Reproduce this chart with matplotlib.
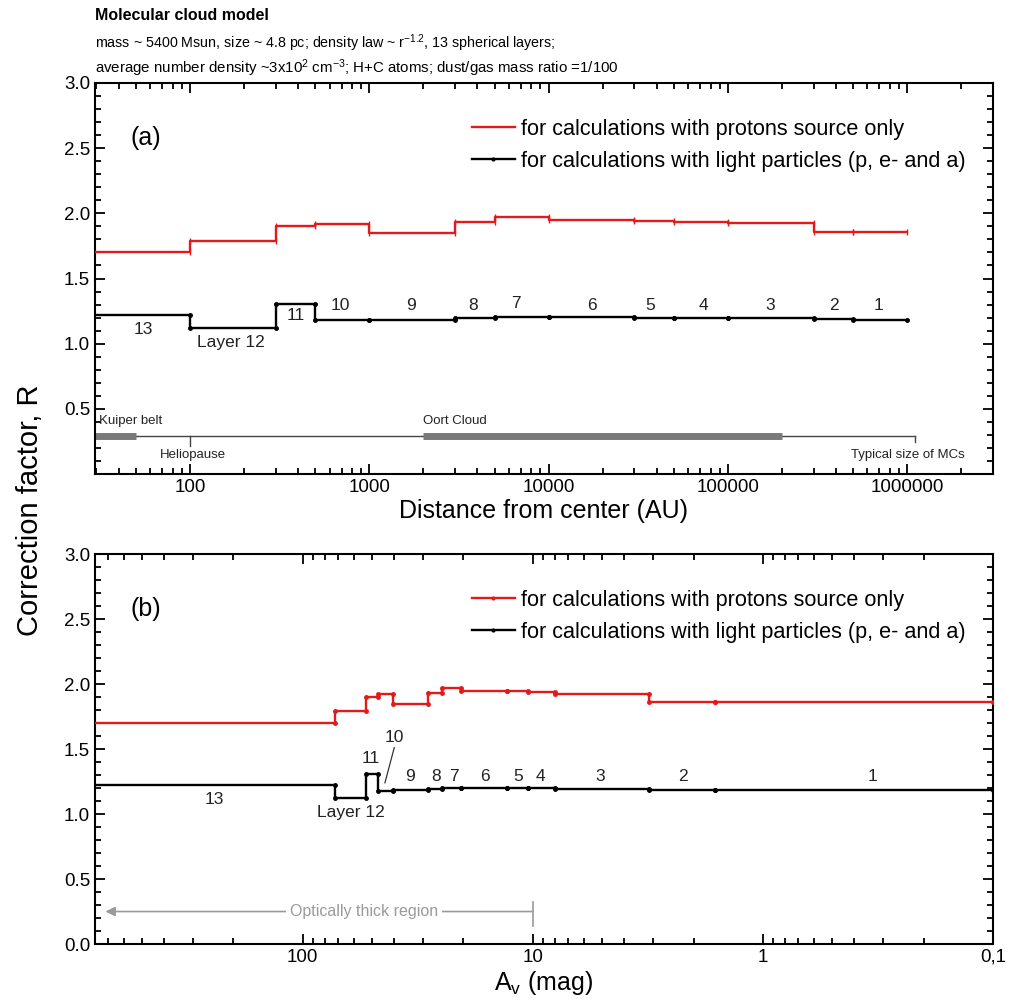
import numpy as np
import matplotlib
matplotlib.use("Agg")
import matplotlib.pyplot as plt
from matplotlib.lines import Line2D
from matplotlib.ticker import FixedLocator, FuncFormatter, MultipleLocator, LogLocator, NullFormatter

plt.rcParams['font.family'] = ['Liberation Sans', 'DejaVu Sans']
plt.rcParams['mathtext.default'] = 'regular'

# layers 13 ... 1, from the centre outwards
layers = ["13", "Layer 12", "11", "10", "9", "8", "7", "6", "5", "4", "3", "2", "1"]
r_edges = [30, 100, 300, 500, 1000, 3000, 5000, 1e4, 3e4, 5e4, 1e5, 3e5, 5e5, 1e6]   # AU
av_edges = [1000, 72.4, 52.9, 46.9, 40.6, 28.4, 24.7, 20.6, 12.9, 10.5, 7.97, 3.12, 1.62, 0.1]  # mag
r_protons = [1.70, 1.79, 1.90, 1.92, 1.85, 1.93, 1.97, 1.95, 1.945, 1.935, 1.925, 1.86, 1.86]
r_light = [1.22, 1.12, 1.305, 1.178, 1.185, 1.195, 1.203, 1.203, 1.199, 1.198, 1.196, 1.187, 1.185]

lab_protons = "for calculations with protons source only"
lab_light = "for calculations with light particles (p, e- and a)"

RED = '#e31a1c'


def draw_steps(ax, edges, vals, color, marker, ms):
    ax.step(edges, list(vals) + [vals[-1]], where='post', color=color, lw=1.7, zorder=3)
    mx, my = [], []
    for i in range(1, len(edges) - 1):
        mx += [edges[i], edges[i]]
        my += [vals[i - 1], vals[i]]
    mx.append(edges[-1])
    my.append(vals[-1])
    ax.plot(mx, my, ls='none', marker=marker, color=color, ms=ms, zorder=4)


def style_axis(ax):
    for s in ax.spines.values():
        s.set_linewidth(1.5)
    ax.tick_params(which='both', direction='in', top=True, right=True, width=1.3)
    ax.tick_params(which='major', length=7, labelsize=13.5)
    ax.tick_params(which='minor', length=4)
    ax.set_ylim(0, 3.0)
    ax.yaxis.set_major_locator(MultipleLocator(0.5))
    ax.yaxis.set_minor_locator(MultipleLocator(0.1))


fig = plt.figure(figsize=(10.1, 10.06), dpi=100)
ax1 = fig.add_axes([0.094, 0.5288, 0.889, 0.3887])
ax2 = fig.add_axes([0.094, 0.0616, 0.889, 0.3877])

# ---------------- panel (a)
draw_steps(ax1, r_edges, r_protons, RED, '|', 4)
draw_steps(ax1, r_edges, r_light, 'black', '.', 5)
ax1.set_xscale('log')
ax1.set_xlim(29.5, 3e6)
style_axis(ax1)
ax1.xaxis.set_major_locator(LogLocator(base=10))
ax1.xaxis.set_major_formatter(FuncFormatter(lambda v, p: "%d" % round(v) if 50 < v < 2e6 else ""))
ax1.yaxis.set_major_formatter(FuncFormatter(lambda v, p: "" if v < 0.01 else "%.1f" % v))
ax1.set_xlabel("Distance from center (AU)", fontsize=18, labelpad=2)

lab_r = [55, 170, 390, 690, 1700, 3800, 6600, 17500, 37000, 73000, 172000, 390000, 690000]
lab_ry = [1.11, 1.01, 1.22, 1.29, 1.29, 1.29, 1.31, 1.29, 1.29, 1.29, 1.29, 1.29, 1.29]
for t, x, y in zip(layers, lab_r, lab_ry):
    ax1.text(x, y, t, ha='center', va='center', fontsize=12.5, color='#222222')

# solar-system scale bar
ax1.plot([29.5, 1.1e6], [0.29, 0.29], color='#444444', lw=1.0, zorder=2)
ax1.plot([100, 100], [0.29, 0.215], color='#444444', lw=1.0)
ax1.plot([1.1e6, 1.1e6], [0.29, 0.245], color='#444444', lw=1.0)
ax1.plot([29.5, 50], [0.29, 0.29], color='#7a7a7a', lw=5, solid_capstyle='butt')
ax1.plot([2000, 2e5], [0.29, 0.29], color='#7a7a7a', lw=5, solid_capstyle='butt')
ax1.text(31, 0.405, "Kuiper belt", fontsize=9.5, va='center', color='#222222')
ax1.text(2000, 0.405, "Oort Cloud", fontsize=9.5, va='center', color='#222222')
ax1.text(68, 0.148, "Heliopause", fontsize=9.5, va='center', color='#222222')
ax1.text(2.1e6, 0.148, "Typical size of MCs", fontsize=9.5, va='center', ha='right', color='#222222')
ax1.text(0.04, 0.86, "(a)", transform=ax1.transAxes, fontsize=18, va='center')

h1 = [Line2D([], [], color=RED, lw=1.7),
      Line2D([], [], color='black', lw=1.7, marker='.', ms=4)]
ax1.legend(h1, [lab_protons, lab_light], loc='upper left', bbox_to_anchor=(0.398, 0.958),
           frameon=False, fontsize=15.6, handlelength=2.0, handletextpad=0.25, labelspacing=0.5)

# ---------------- panel (b)
draw_steps(ax2, av_edges, r_protons, RED, '.', 5)
draw_steps(ax2, av_edges, r_light, 'black', '.', 5)
ax2.set_xscale('log')
ax2.set_xlim(800, 0.1)
style_axis(ax2)
ax2.xaxis.set_major_locator(FixedLocator([100, 10, 1, 0.1]))
ax2.xaxis.set_major_formatter(FuncFormatter(lambda v, p: {100: "100", 10: "10", 1: "1"}.get(round(v), "0,1")))
ax2.xaxis.set_minor_locator(LogLocator(base=10, subs=np.arange(2, 10)))
ax2.xaxis.set_minor_formatter(NullFormatter())
ax2.yaxis.set_major_formatter(FuncFormatter(lambda v, p: "%.1f" % v))
ax2.set_xlabel("A$_v$ (mag)", fontsize=18, labelpad=2)

lab_av = [243, 61.6, 50.5, 39.8, 34.2, 26.4, 21.9, 16.1, 11.6, 9.3, 5.1, 2.22, 0.335]
lab_avy = [1.115, 1.01, 1.43, 1.59, 1.285, 1.285, 1.29, 1.29, 1.285, 1.285, 1.285, 1.285, 1.29]
for t, x, y in zip(layers, lab_av, lab_avy):
    ax2.text(x, y, t, ha='center', va='center', fontsize=12.5, color='#222222')
ax2.plot([40.0, 43.9], [1.51, 1.24], color='#333333', lw=0.9)

# optically thick region marker
GREY = '#9a9a9a'
ax2.annotate('', xy=(720, 0.25), xytext=(10, 0.25),
             arrowprops=dict(arrowstyle='-|>', color=GREY, lw=1.2, mutation_scale=14, shrinkA=0, shrinkB=0))
ax2.plot([10, 10], [0.14, 0.325], color=GREY, lw=1.2)
ax2.text(54, 0.25, "Optically thick region", fontsize=11.5, color=GREY, ha='center', va='center',
         bbox=dict(facecolor='white', edgecolor='none', pad=3))
ax2.text(0.04, 0.86, "(b)", transform=ax2.transAxes, fontsize=18, va='center')

h2 = [Line2D([], [], color=RED, lw=1.7, marker='.', ms=4),
      Line2D([], [], color='black', lw=1.7, marker='.', ms=4)]
ax2.legend(h2, [lab_protons, lab_light], loc='upper left', bbox_to_anchor=(0.398, 0.958),
           frameon=False, fontsize=15.6, handlelength=2.0, handletextpad=0.25, labelspacing=0.5)

# ---------------- header and shared y label
fig.text(0.094, 0.985, "Molecular cloud model", fontsize=11.5, fontweight='bold', va='center')
fig.text(0.094, 0.957, "mass ~ 5400 Msun, size ~ 4.8 pc; density law ~ r$^{-1.2}$, 13 spherical layers;",
         fontsize=10.3, va='center')
fig.text(0.094, 0.932, "average number density ~3x10$^{2}$ cm$^{-3}$; H+C atoms; dust/gas mass ratio =1/100",
         fontsize=10.8, va='center')
fig.text(0.03, 0.493, "Correction factor, R", rotation=90, fontsize=21, ha='center', va='center')

fig.savefig("out.png", dpi=100)
